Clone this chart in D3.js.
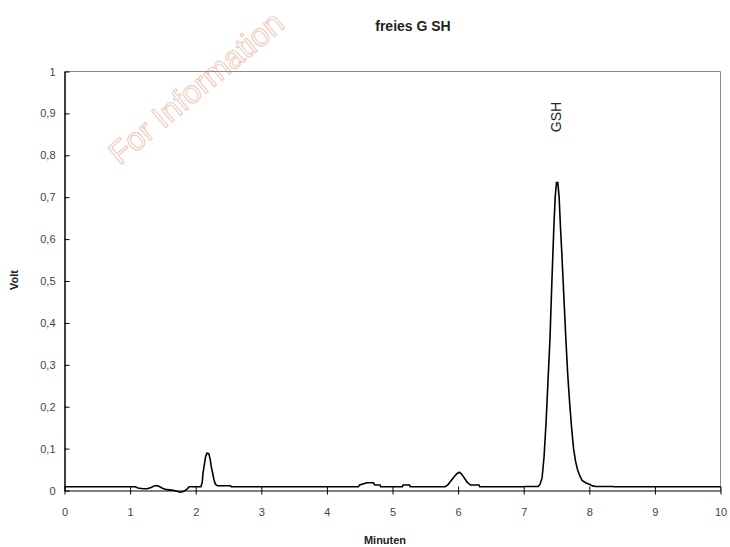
<!DOCTYPE html>
<html lang="de">
<head>
    <meta charset="UTF-8">
    <title>freies G SH</title>
    <script src="https://d3js.org/d3.v7.min.js"></script>
    <style>
        body {
            margin: 0;
            padding: 0;
            background-color: #fff;
            font-family: "Liberation Sans", Arial, sans-serif;
        }
        svg { display: block; }
    </style>
</head>
<body>
    <svg width="730" height="547"></svg>
    <script>
        // Chromatogram: time (min) and signal (V)
        const times = [
            0, 1.08, 1.12, 1.2, 1.26, 1.32, 1.37, 1.4, 1.44, 1.5, 1.56, 1.64, 1.7, 1.77, 1.82, 1.87, 1.9,
            2.08, 2.1, 2.11, 2.13, 2.15, 2.17, 2.2, 2.22, 2.24, 2.26, 2.28, 2.3, 2.33, 2.53, 2.54,
            4.48, 4.5, 4.61, 4.71, 4.73, 4.81, 4.82, 5.15, 5.16, 5.26, 5.27,
            5.8, 5.84, 5.88, 5.94, 5.98, 6.02, 6.05, 6.08, 6.14, 6.19, 6.32, 6.33,
            7.0, 7.02, 7.22, 7.25, 7.28, 7.31, 7.34, 7.37, 7.4, 7.43, 7.46, 7.48, 7.5, 7.52,
            7.54, 7.56, 7.58, 7.61, 7.64, 7.67, 7.7, 7.73, 7.76, 7.79, 7.82, 7.85, 7.89, 7.95,
            8.0, 8.05, 8.1, 8.36, 8.37, 10
        ];
        const volts = [
            0.009, 0.009, 0.006, 0.004, 0.004, 0.007, 0.011, 0.012, 0.01, 0.005, 0.002, 0.001, -0.001, -0.004, -0.002, 0.004, 0.009,
            0.009, 0.02, 0.04, 0.06, 0.08, 0.089, 0.088, 0.075, 0.055, 0.04, 0.025, 0.015, 0.0115, 0.0115, 0.009,
            0.009, 0.013, 0.0185, 0.0185, 0.013, 0.013, 0.009, 0.009, 0.013, 0.013, 0.009,
            0.009, 0.013, 0.021, 0.033, 0.04, 0.0435, 0.04, 0.033, 0.0195, 0.013, 0.013, 0.009,
            0.009, 0.0095, 0.0095, 0.015, 0.03, 0.08, 0.16, 0.26, 0.36, 0.5, 0.63, 0.7, 0.735, 0.735,
            0.7, 0.63, 0.57, 0.47, 0.37, 0.28, 0.21, 0.15, 0.1, 0.07, 0.05, 0.037, 0.024, 0.018,
            0.015, 0.011, 0.0095, 0.0095, 0.009, 0.009
        ];
        const xTicks = [0, 1, 2, 3, 4, 5, 6, 7, 8, 9, 10];
        const yTicks = [0, 0.1, 0.2, 0.3, 0.4, 0.5, 0.6, 0.7, 0.8, 0.9, 1];
        const yTickLabels = ["0", "0,1", "0,2", "0,3", "0,4", "0,5", "0,6", "0,7", "0,8", "0,9", "1"];
        const peakNames = ["GSH"];
        const peakTimes = [7.5];

        const data = times.map((t, i) => ({ t: t, v: volts[i] }));

        const svg = d3.select("svg");

        // Scales
        const x = d3.scaleLinear().domain([0, 10]).range([64.5, 720.5]);
        const y = d3.scaleLinear().domain([0, 1]).range([490.5, 71.5]);

        // Watermark
        svg.append("text")
            .attr("transform", "translate(120,166) rotate(-40)")
            .attr("font-size", 32)
            .attr("fill", "none")
            .attr("stroke", "#efc2ad")
            .attr("stroke-width", 0.9)
            .text("For Information");

        // Frame (top and right)
        svg.append("path")
            .attr("d", `M${x(0)},${y(1)}H${x(10)}V${y(0)}`)
            .attr("fill", "none")
            .attr("stroke", "#8a8a8a")
            .attr("stroke-width", 1);

        // Axes
        const xAxis = svg.append("g")
            .attr("transform", `translate(0,${y(0)})`)
            .call(d3.axisBottom(x).tickValues(xTicks).tickSizeInner(4).tickSizeOuter(0).tickPadding(14));
        xAxis.selectAll(".tick line").attr("y1", -4).attr("stroke", "#000");
        xAxis.select(".domain").attr("stroke", "#000");
        xAxis.selectAll("text")
            .attr("font-family", "Liberation Sans, Arial, sans-serif")
            .attr("font-size", 11)
            .attr("fill", "#444");

        const yAxis = svg.append("g")
            .attr("transform", `translate(${x(0)},0)`)
            .call(d3.axisLeft(y).tickValues(yTicks).tickFormat((d, i) => yTickLabels[i])
                .tickSizeInner(5).tickSizeOuter(0).tickPadding(4));
        yAxis.selectAll(".tick line").attr("x2", 5).attr("stroke", "#000");
        yAxis.select(".domain").attr("stroke", "#000").attr("stroke-width", 1.5);
        yAxis.selectAll("text")
            .attr("font-family", "Liberation Sans, Arial, sans-serif")
            .attr("font-size", 11)
            .attr("fill", "#444");

        // Signal
        const line = d3.line()
            .x(d => x(d.t))
            .y(d => y(d.v));

        svg.append("path")
            .datum(data)
            .attr("d", line)
            .attr("fill", "none")
            .attr("stroke", "#000")
            .attr("stroke-width", 1.6)
            .attr("stroke-linejoin", "miter");

        // Peak label
        peakNames.forEach((name, i) => {
            svg.append("text")
                .attr("transform", `translate(${x(peakTimes[i]) + 4},117) rotate(-90)`)
                .attr("text-anchor", "middle")
                .attr("font-size", 14)
                .attr("fill", "#222")
                .text(name);
        });

        // Titles
        svg.append("text")
            .attr("x", 413)
            .attr("y", 31)
            .attr("text-anchor", "middle")
            .attr("font-size", 14)
            .attr("font-weight", "bold")
            .attr("fill", "#222")
            .text("freies G SH");

        svg.append("text")
            .attr("transform", "translate(18,280) rotate(-90)")
            .attr("text-anchor", "middle")
            .attr("font-size", 11)
            .attr("font-weight", "bold")
            .attr("fill", "#222")
            .text("Volt");

        svg.append("text")
            .attr("x", 385)
            .attr("y", 544)
            .attr("text-anchor", "middle")
            .attr("font-size", 11)
            .attr("font-weight", "bold")
            .attr("fill", "#222")
            .text("Minuten");
    </script>
</body>
</html>
